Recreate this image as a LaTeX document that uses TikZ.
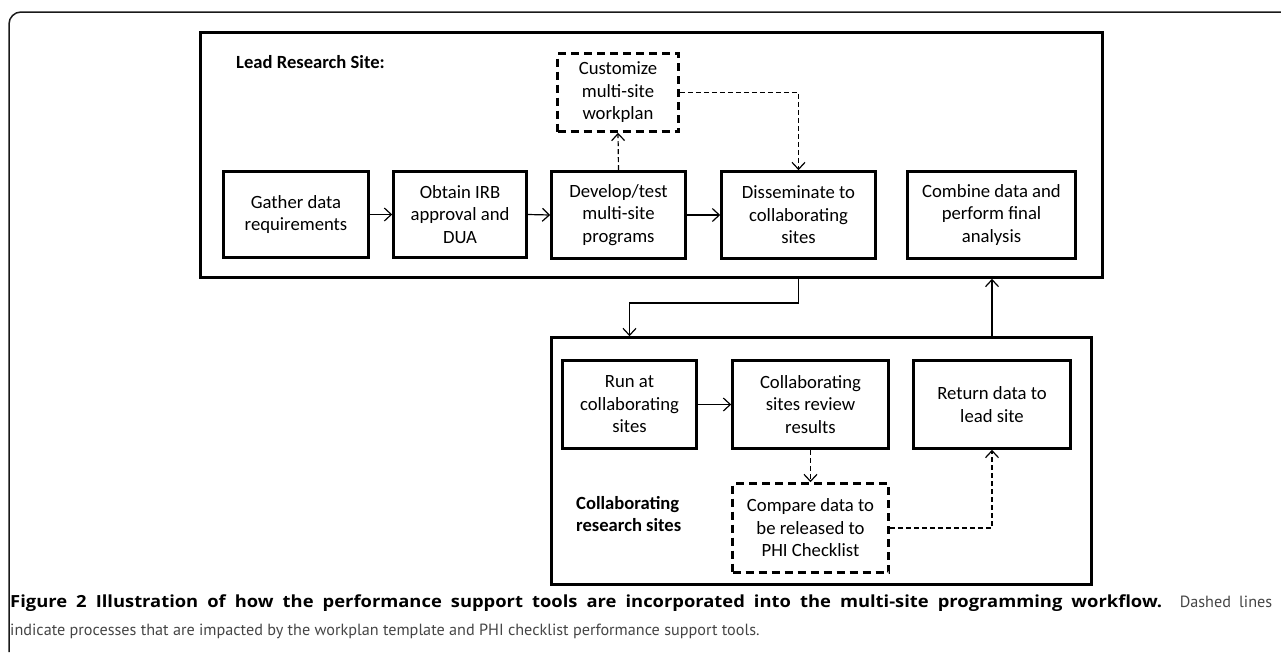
\documentclass[tikz,border=0pt]{standalone}
\usepackage{fontspec}
\setmainfont{Carlito}
\newfontfamily\captionfont{PT Sans}
\newfontfamily\captionboldfont{Open Sans}[UprightFont=* Bold, FakeStretch=1.1]
\usepackage{xcolor}
\usetikzlibrary{arrows.meta}
\definecolor{fdarkgray}{HTML}{1a1a1a}
\definecolor{fgray}{HTML}{454545}

\tikzset{
	stepbox/.style={draw=black, line width=2.6pt, align=center, inner sep=0pt, font=\fontsize{18.7}{22.5}\selectfont},
	toolbox/.style={stepbox, dash pattern=on 8pt off 5pt},
	sitebox/.style={draw=black, line width=2.6pt, inner sep=0pt},
	sitelabel/.style={anchor=west, align=left, inner sep=0pt, font=\bfseries\fontsize{18.6}{22.5}\selectfont},
	flow/.style={line width=1.2pt, -{Straight Barb[length=7pt,width=13pt,line width=1.2pt]}},
	toolflow/.style={flow, dash pattern=on 5pt off 3pt},
	captionline/.style={anchor=west, inner sep=0pt, font=\captionfont\fontsize{16.2}{18}\selectfont},
}

\begin{document}
\begin{tikzpicture}[x=1pt, y=-1pt]
		\useasboundingbox (0,0) rectangle (1281,656);
		\draw[color=fdarkgray, line width=1.5pt, rounded corners=12pt] (9,652) -- (9,12) -- (1281,12);
		\node[sitebox, minimum width=902pt, minimum height=245pt] (lead) at (651.5,155) {};
		\node[sitebox, minimum width=540pt, minimum height=247pt] (collab) at (821.5,461) {};
		\node[sitelabel] (leadlabel) at (236,62) {Lead Research Site:};
		\node[sitelabel] (collablabel) at (576,514) {Collaborating\\research sites};
		\node[stepbox, minimum width=145pt, minimum height=86pt] (gather) at (296,214.5) {Gather data\\requirements};
		\node[stepbox, minimum width=133pt, minimum height=86pt] (obtain) at (460,214.5) {Obtain IRB\\approval and\\DUA};
		\node[stepbox, minimum width=134pt, minimum height=87pt] (develop) at (618.5,215) {Develop/test\\multi-site\\programs};
		\node[stepbox, minimum width=154pt, minimum height=87pt] (dissem) at (798.5,215) {Disseminate to\\collaborating\\sites};
		\node[stepbox, minimum width=168pt, minimum height=87pt] (combine) at (991.5,215) {Combine data and\\perform final\\analysis};
		\node[toolbox, minimum width=121pt, minimum height=78pt] (custom) at (618,92.5) {Customize\\multi-site\\workplan};
		\node[stepbox, minimum width=134pt, minimum height=88pt] (run) at (629.5,404.5) {Run at\\collaborating\\sites};
		\node[stepbox, minimum width=156pt, minimum height=88pt] (review) at (810.5,404.5) {Collaborating\\sites review\\results};
		\node[stepbox, minimum width=157pt, minimum height=88pt] (ret) at (992,404.5) {Return data to\\lead site};
		\node[toolbox, minimum width=156pt, minimum height=89pt] (compare) at (810.5,528) {Compare data to\\be released  to\\PHI Checklist};
		\coordinate (turn) at (629.5,303);
		\draw[flow] (gather.east) -- (obtain.west);
		\draw[flow] (obtain.east) -- (develop.west);
		\draw[flow] (develop.east) -- (dissem.west);
		\draw[toolflow] (develop.north) -- (custom.south);
		\draw[toolflow] (custom.east) -| (dissem.north);
		\draw[flow] (lead.south -| dissem.south) |- (turn) -- (collab.north -| run.north);
		\draw[flow] (run.east) -- (review.west);
		\draw[toolflow] (review.south) -- (compare.north);
		\draw[toolflow] (compare.east) -| (ret.south);
		\draw[flow] (collab.north -| ret.north) -- (lead.south -| ret.north);
		\node[captionline] (captiontop) at (10,603) {\makebox[1262pt][s]{{\captionboldfont\fontsize{16.7}{18}\selectfont Figure 2 Illustration of how the performance support tools are incorporated into the multi-site programming workflow.} \color{fgray}Dashed lines}};
		\node[captionline, text=fgray] (captionbottom) at (10,631) {indicate processes that are impacted by the workplan template and PHI checklist performance support tools.};
	\end{tikzpicture}
\end{document}
